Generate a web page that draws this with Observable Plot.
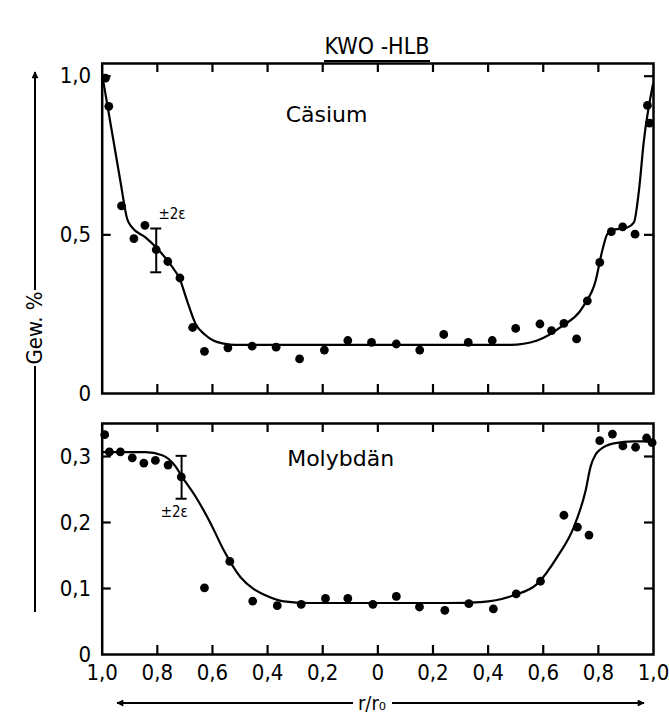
<!DOCTYPE html>
<html>
<head>
<meta charset="utf-8">
<script src="https://cdn.jsdelivr.net/npm/d3@7"></script>
<script src="https://cdn.jsdelivr.net/npm/@observablehq/plot@0.6"></script>
<style>
  html, body { margin: 0; padding: 0; background: #fff; }
  #wrap { position: relative; width: 669px; height: 721px; background: #fff; font-family: "DejaVu Sans Condensed", "DejaVu Sans", sans-serif; color: #000; }
  #title { position: absolute; left: 0; width: 754px; top: 34px; text-align: center; font-size: 23px; line-height: 24px; z-index: 2; }
  #title span { border-bottom: 2px solid #000; padding: 0 1px 1px 1px; }
  .plot { position: absolute; left: 0; z-index: 1; }
  #deco { position: absolute; left: 0; top: 0; z-index: 3; pointer-events: none; }
</style>
</head>
<body>
<div id="wrap">
  <div id="title"><span>KWO -HLB</span></div>
  <div id="p1" class="plot" style="top:0px"></div>
  <div id="p2" class="plot" style="top:410px"></div>
  <svg id="deco" width="669" height="721"></svg>
</div>
<script>
// ---- data ----
const xTicks = [-1, -0.8, -0.6, -0.4, -0.2, 0, 0.2, 0.4, 0.6, 0.8, 1];
const xTickLabels = ["1,0", "0,8", "0,6", "0,4", "0,2", "0", "0,2", "0,4", "0,6", "0,8", "1,0"];
const csYTicks = [0, 0.5, 1];
const csYTickLabels = ["0", "0,5", "1,0"];
const moYTicks = [0, 0.1, 0.2, 0.3];
const moYTickLabels = ["0", "0,1", "0,2", "0,3"];

// Cäsium measured points
const csX = [-0.988, -0.976, -0.930, -0.885, -0.845, -0.804, -0.762, -0.718, -0.672, -0.629, -0.544, -0.456, -0.369, -0.284, -0.194, -0.109, -0.023, 0.067, 0.152, 0.239, 0.328, 0.415, 0.500, 0.588, 0.630, 0.675, 0.721, 0.760, 0.805, 0.847, 0.888, 0.933, 0.978, 0.986];
const csY = [0.994, 0.905, 0.591, 0.488, 0.530, 0.453, 0.416, 0.364, 0.208, 0.133, 0.144, 0.149, 0.146, 0.109, 0.137, 0.167, 0.161, 0.156, 0.137, 0.186, 0.161, 0.167, 0.205, 0.219, 0.198, 0.221, 0.172, 0.292, 0.413, 0.510, 0.525, 0.502, 0.908, 0.852];
// Cäsium fitted curve
const csCurveX = [-1, -0.934, -0.909, -0.891, -0.843, -0.804, -0.758, -0.716, -0.692, -0.661, -0.628, -0.595, -0.559, -0.52, 0.48, 0.578, 0.663, 0.747, 0.790, 0.814, 0.832, 0.850, 0.905, 0.929, 0.947, 0.965, 0.998];
const csCurveY = [1.004, 0.669, 0.549, 0.523, 0.492, 0.460, 0.413, 0.355, 0.292, 0.219, 0.186, 0.166, 0.157, 0.153, 0.153, 0.167, 0.209, 0.277, 0.355, 0.450, 0.502, 0.515, 0.523, 0.539, 0.638, 0.796, 0.974];
const csErrX = [-0.804], csErrLo = [0.382], csErrHi = [0.520];

// Molybdän measured points
const moX = [-0.991, -0.974, -0.934, -0.891, -0.849, -0.807, -0.761, -0.713, -0.629, -0.537, -0.454, -0.365, -0.278, -0.190, -0.109, -0.018, 0.067, 0.151, 0.243, 0.330, 0.419, 0.502, 0.590, 0.675, 0.724, 0.766, 0.805, 0.851, 0.889, 0.935, 0.975, 0.995];
const moY = [0.333, 0.307, 0.307, 0.298, 0.290, 0.294, 0.287, 0.269, 0.101, 0.141, 0.081, 0.074, 0.076, 0.085, 0.085, 0.076, 0.088, 0.072, 0.067, 0.077, 0.069, 0.092, 0.111, 0.211, 0.193, 0.181, 0.324, 0.334, 0.316, 0.314, 0.328, 0.321];
// Molybdän fitted curve
const moCurveX = [-1, -0.843, -0.782, -0.734, -0.710, -0.661, -0.607, -0.559, -0.498, -0.450, -0.414, -0.341, -0.25, 0.25, 0.373, 0.493, 0.578, 0.651, 0.711, 0.754, 0.772, 0.790, 0.808, 0.856, 0.929, 1];
const moCurveY = [0.3065, 0.3065, 0.302, 0.285, 0.269, 0.239, 0.199, 0.158, 0.117, 0.099, 0.091, 0.0805, 0.078, 0.078, 0.0795, 0.0897, 0.107, 0.148, 0.193, 0.249, 0.285, 0.303, 0.311, 0.320, 0.323, 0.323];
const moErrX = [-0.712], moErrLo = [0.236], moErrHi = [0.301];

const panelLabels = ["Cäsium", "Molybdän"];
const panelLabelX = [-0.186, -0.135];
const panelLabelY = [0.879, 0.297];
const errLabel = "±2ε";
const errLabelX = [-0.796, -0.788];
const errLabelY = [0.55, 0.209];
const yAxisTitle = "Gew. %";
const xAxisTitle = "r/r₀";

// ---- drawing ----
const FONT = '"DejaVu Sans Condensed", "DejaVu Sans", sans-serif';
const LABELFONT = '"DejaVu Sans", sans-serif';
const W = 669, ML = 101.7, MR = 16;
const TICK = 9;
const CAP = 0.02; // half-width of error bar caps in x units

function panel({height, mt, mb, yDomain, yTicks, yTickLabels, px, py, cx, cy, ex, elo, ehi, label, lx, ly, elx, ely, showX}) {
  const plotH = height - mt - mb, plotW = W - ML - MR;
  const [yMin, yMax] = yDomain;
  const tyLen = TICK * (yMax - yMin) / plotH;   // inward tick length in y units
  const txLen = TICK * 2 / plotW;               // inward tick length in x units
  const pts = px.map((x, i) => ({x, y: py[i]}));
  const curve = cx.map((x, i) => ({x, y: cy[i]}));
  const err = ex.map((x, i) => ({x, lo: elo[i], hi: ehi[i]}));
  // inward tick segments built from the tick arrays
  const segBottom = xTicks.slice(1, -1).map(v => ({x: v, lo: yMin, hi: yMin + tyLen}));
  const segTop = xTicks.slice(1, -1).map(v => ({x: v, lo: yMax - tyLen, hi: yMax}));
  const segY = yTicks.filter(v => v > yMin && v < yMax).map(v => ({y: v}));
  const marks = [
    Plot.frame({stroke: "black", strokeWidth: 2.5}),
    Plot.ruleX(segBottom, {x: "x", y1: "lo", y2: "hi", stroke: "black", strokeWidth: 2.2}),
    Plot.ruleX(segTop, {x: "x", y1: "lo", y2: "hi", stroke: "black", strokeWidth: 2.2}),
    Plot.ruleY(segY, {y: "y", x1: () => -1, x2: () => -1 + txLen, stroke: "black", strokeWidth: 2.2}),
    Plot.ruleY(segY, {y: "y", x1: () => 1 - txLen, x2: () => 1, stroke: "black", strokeWidth: 2.2}),
    Plot.axisY({ticks: yTicks, tickSize: 0, tickPadding: 11, fontSize: 22, label: null,
      tickFormat: d => yTickLabels[yTicks.indexOf(d)]}),
    Plot.line(curve, {x: "x", y: "y", curve: "monotone-x", stroke: "black", strokeWidth: 2.2}),
    Plot.dot(pts, {x: "x", y: "y", r: 4.4, fill: "black", stroke: "none"}),
    Plot.ruleX(err, {x: "x", y1: "lo", y2: "hi", stroke: "black", strokeWidth: 2}),
    Plot.ruleY(err, {y: "lo", x1: d => d.x - CAP, x2: d => d.x + CAP, stroke: "black", strokeWidth: 2}),
    Plot.ruleY(err, {y: "hi", x1: d => d.x - CAP, x2: d => d.x + CAP, stroke: "black", strokeWidth: 2}),
    Plot.text([label], {x: [lx], y: [ly], text: d => d, fontSize: 22, fontFamily: LABELFONT, fill: "black", style: "letter-spacing:1px"}),
    Plot.text([errLabel], {x: [elx], y: [ely], text: d => d, fontSize: 15, fill: "black", textAnchor: "start", lineAnchor: "bottom"})
  ];
  if (showX) {
    marks.push(Plot.axisX({ticks: xTicks, tickSize: 0, tickPadding: 10, fontSize: 22, label: null,
      tickFormat: d => xTickLabels[xTicks.indexOf(d)]}));
  }
  return Plot.plot({
    width: W, height,
    marginLeft: ML, marginRight: MR, marginTop: mt, marginBottom: mb,
    x: {type: "linear", domain: [-1, 1], axis: null},
    y: {type: "linear", domain: yDomain, axis: null},
    style: {fontFamily: FONT, fontSize: "20px", background: "transparent", color: "black", overflow: "visible"},
    marks
  });
}

const p1 = panel({height: 410, mt: 63, mb: 17, yDomain: [0, 1.04], yTicks: csYTicks, yTickLabels: csYTickLabels,
  px: csX, py: csY, cx: csCurveX, cy: csCurveY, ex: csErrX, elo: csErrLo, ehi: csErrHi,
  label: panelLabels[0], lx: panelLabelX[0], ly: panelLabelY[0], elx: errLabelX[0], ely: errLabelY[0], showX: false});
const p2 = panel({height: 311, mt: 13, mb: 67, yDomain: [0, 0.35], yTicks: moYTicks, yTickLabels: moYTickLabels,
  px: moX, py: moY, cx: moCurveX, cy: moCurveY, ex: moErrX, elo: moErrLo, ehi: moErrHi,
  label: panelLabels[1], lx: panelLabelX[1], ly: panelLabelY[1], elx: errLabelX[1], ely: errLabelY[1], showX: true});
document.getElementById("p1").appendChild(p1);
document.getElementById("p2").appendChild(p2);

// ---- axis titles with arrows (decoration) ----
const deco = d3.select("#deco");
const defs = deco.append("defs");
defs.append("marker").attr("id", "ah").attr("viewBox", "0 0 10 10").attr("refX", 9).attr("refY", 5)
  .attr("markerWidth", 10).attr("markerHeight", 7).attr("markerUnits", "userSpaceOnUse").attr("orient", "auto")
  .append("path").attr("d", "M0,0 L10,5 L0,10 Z").attr("fill", "black");
deco.append("text").attr("transform", "translate(42,328) rotate(-90)").attr("text-anchor", "middle")
  .attr("font-family", FONT).attr("font-size", 22).text(yAxisTitle);
deco.append("line").attr("x1", 35).attr("x2", 35).attr("y1", 290).attr("y2", 72)
  .attr("stroke", "black").attr("stroke-width", 2).attr("marker-end", "url(#ah)");
deco.append("line").attr("x1", 35).attr("x2", 35).attr("y1", 366).attr("y2", 612)
  .attr("stroke", "black").attr("stroke-width", 2);
deco.append("text").attr("x", 372).attr("y", 710).attr("text-anchor", "middle")
  .attr("font-family", FONT).attr("font-size", 20).text(xAxisTitle);
deco.append("line").attr("x1", 353).attr("x2", 117).attr("y1", 703).attr("y2", 703)
  .attr("stroke", "black").attr("stroke-width", 2).attr("marker-end", "url(#ah)");
deco.append("line").attr("x1", 392).attr("x2", 644).attr("y1", 703).attr("y2", 703)
  .attr("stroke", "black").attr("stroke-width", 2).attr("marker-end", "url(#ah)");
</script>
</body>
</html>
